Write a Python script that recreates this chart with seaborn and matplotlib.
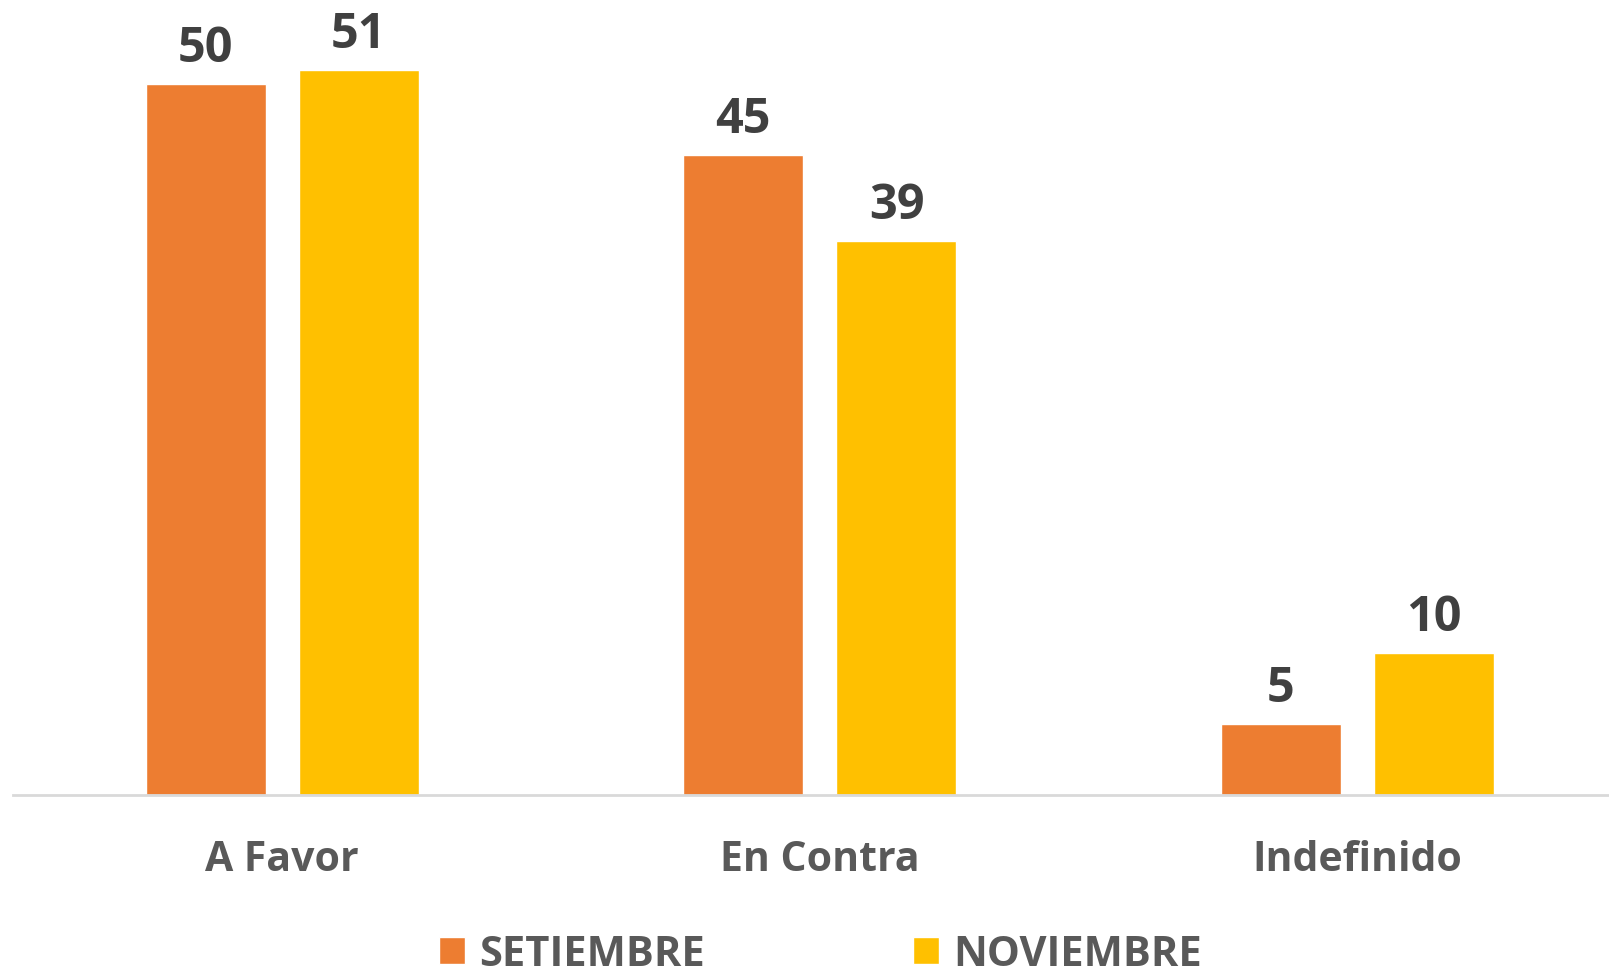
import pandas as pd
import numpy as np
import matplotlib
matplotlib.use("Agg")
import matplotlib.pyplot as plt
import seaborn as sns

# data
categorias = ["A Favor", "En Contra", "Indefinido"]
setiembre = [50, 45, 5]
noviembre = [51, 39, 10]
meses = ["SETIEMBRE", "NOVIEMBRE"]
colores = ["#ED7D31", "#FFC000"]

df = pd.DataFrame({
    "categoria": categorias * 2,
    "mes": [meses[0]] * 3 + [meses[1]] * 3,
    "valor": setiembre + noviembre,
})

sns.set_theme(style="white")
plt.rcParams['font.family'] = ['Open Sans', 'DejaVu Sans']

fig = plt.figure(figsize=(16.09, 9.79), dpi=100)
ax = fig.add_axes([0.0083, 0.187, 1.0025, 0.813])

sns.barplot(data=df, x="categoria", y="valor", hue="mes",
            palette=colores, width=0.57, gap=0.217, ax=ax,
            saturation=1, errorbar=None)

for c in ax.containers:
    ax.bar_label(c, fmt="%d", padding=8, fontsize=35, fontweight="bold",
                 color="#404040")

ax.set_ylim(0, 56)
ax.set_xlim(-0.5, 2.5)
ax.set_xlabel("")
ax.set_ylabel("")
ax.set_yticks([])
for s in ["top", "left", "right"]:
    ax.spines[s].set_visible(False)
ax.spines["bottom"].set_color("#D9D9D9")
ax.spines["bottom"].set_linewidth(2)
ax.tick_params(axis="x", length=0, pad=32, labelsize=29.5, labelcolor="#595959")
for t in ax.get_xticklabels():
    t.set_fontweight("bold")

sns.move_legend(ax, loc="center", bbox_to_anchor=(0.51, 0.024),
                bbox_transform=fig.transFigure, ncol=2, title="",
                frameon=False, fontsize=30, handlelength=0.62,
                handleheight=0.62, handletextpad=0.35, columnspacing=5.0,
                borderpad=0.1)
for t in ax.get_legend().get_texts():
    t.set_color("#595959")
    t.set_fontweight("bold")

fig.savefig("out.png", dpi=100)
